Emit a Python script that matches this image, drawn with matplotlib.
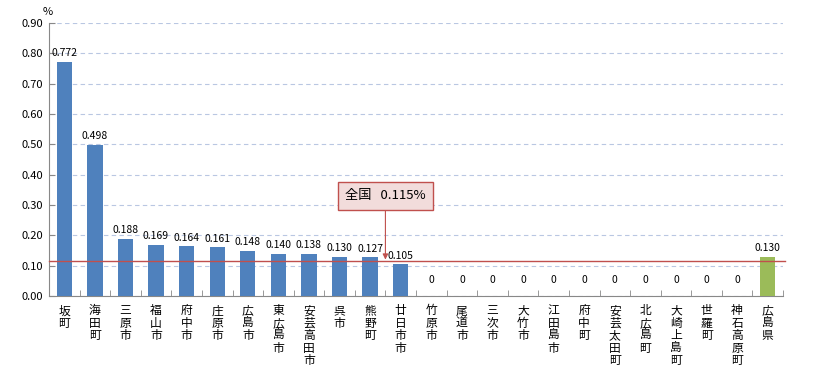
import matplotlib
matplotlib.use("Agg")
import matplotlib.pyplot as plt
import numpy as np

plt.rcParams['font.family'] = ['Noto Sans CJK JP', 'DejaVu Sans']

categories = ["坂町", "海田町", "三原市", "福山市", "府中市", "庄原市", "広島市", "東広島市",
              "安芸高田市", "呉市", "熊野町", "廿日市市", "竹原市", "尾道市", "三次市", "大竹市",
              "江田島市", "府中町", "安芸太田町", "北広島町", "大崎上島町", "世羅町", "神石高原町", "広島県"]
values = [0.772, 0.498, 0.188, 0.169, 0.164, 0.161, 0.148, 0.140, 0.138, 0.130, 0.127, 0.105,
          0, 0, 0, 0, 0, 0, 0, 0, 0, 0, 0, 0.130]
labels = ["0.772", "0.498", "0.188", "0.169", "0.164", "0.161", "0.148", "0.140", "0.138", "0.130",
          "0.127", "0.105", "0", "0", "0", "0", "0", "0", "0", "0", "0", "0", "0", "0.130"]
national = 0.115
yticks = [0.0, 0.1, 0.2, 0.3, 0.4, 0.5, 0.6, 0.7, 0.8, 0.9]

fig = plt.figure(figsize=(8.13, 3.79), dpi=100)
ax = fig.add_axes([49/813, 1-296/379, (783-49)/813, (296-23)/379])

x = np.arange(len(categories))
colors = ['#4F81BD'] * (len(categories) - 1) + ['#9BBB59']
ax.bar(x, values, width=0.5, color=colors, zorder=3)

ax.set_xlim(-0.5, len(categories) - 0.5)
ax.set_ylim(0, 0.9)
ax.set_yticks(yticks)
ax.set_yticklabels([f"{v:.2f}" for v in yticks], fontsize=8)
ax.yaxis.grid(True, linestyle=(0, (4, 3)), color='#B9C7E2', linewidth=0.8, zorder=0)
ax.set_axisbelow(True)

ax.set_xticks(x)
ax.set_xticklabels(["\n".join(c) for c in categories], fontsize=8.5, va='top', linespacing=0.95)
ax.tick_params(axis='x', length=0, pad=6)
ax.set_xticks(np.arange(-0.5, len(categories), 1), minor=True)
ax.tick_params(axis='x', which='minor', length=4, direction='in', color='#888888')
ax.tick_params(axis='y', length=4, direction='in', color='#888888', pad=4)

for s in ['top', 'right']:
    ax.spines[s].set_visible(False)
for s in ['left', 'bottom']:
    ax.spines[s].set_color('#888888')

for xi, v, lab in zip(x, values, labels):
    yy = v + 0.012 if v > 0 else 0.035
    ax.text(xi, yy, lab, ha='center', va='bottom', fontsize=7.5, zorder=4)

ax.axhline(national, color='#C0504D', linewidth=1, zorder=4, clip_on=False, xmax=1.003)

ax.annotate(f"全国   {national}%", xy=(10.5, national + 0.005), xytext=(10.5, 0.33),
            ha='center', va='center', fontsize=9.5,
            bbox=dict(boxstyle='square,pad=0.55', fc='#F2DCDB', ec='#C0504D', lw=1),
            arrowprops=dict(arrowstyle='-|>', color='#C0504D', lw=0.8, mutation_scale=8,
                            shrinkA=0, shrinkB=0),
            zorder=5)

fig.text(43/813, 1-12/379, "%", fontsize=8, ha='left', va='center')

fig.savefig("out.png", dpi=100)
